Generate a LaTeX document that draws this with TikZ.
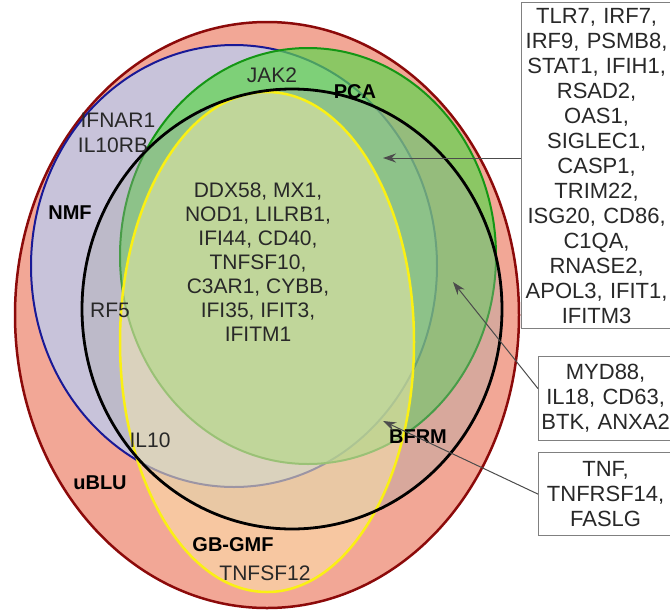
\documentclass[tikz,border=0pt]{standalone}
\usepackage{fontspec}
\setmainfont{Liberation Sans}
\usepackage{tikz}
\usetikzlibrary{arrows.meta}
\definecolor{ublufill}{RGB}{242,167,150}
\definecolor{ubluline}{RGB}{140,10,10}
\definecolor{nmffill}{RGB}{200,195,218}
\definecolor{nmfline}{RGB}{25,25,150}
\definecolor{pcafill}{RGB}{96,214,79}
\definecolor{pcaline}{RGB}{20,150,20}
\definecolor{bfrmfill}{RGB}{170,170,170}
\definecolor{gbfill}{RGB}{255,240,175}
\definecolor{gbline}{RGB}{250,240,20}
\definecolor{ink}{RGB}{40,40,40}
\tikzstyle{genebox} = [rectangle, draw=black!50, line width=1.2pt, fill=white, align=center, text=ink, font=\fontsize{22}{25}\selectfont, inner xsep=2pt, anchor=north west]
\tikzstyle{genes} = [align=center, text=ink, font=\fontsize{21}{24}\selectfont, inner sep=0pt]
\tikzstyle{method} = [text=black, font=\fontsize{20}{24}\selectfont\bfseries, inner sep=0pt]
\tikzstyle{arrow} = [draw=black!70, line width=1pt, -{Stealth[length=13pt,width=9pt]}]

\begin{document}
\begin{tikzpicture}[x=1pt, y=-1pt]
\useasboundingbox (0,0) rectangle (670,614);
% the five gene sets
\draw[ubluline, line width=2.5pt, fill=ublufill] (267,315) ellipse [x radius=252pt, y radius=293pt];
\draw[nmfline, line width=2pt, fill=nmffill] (234,266) ellipse [x radius=203pt, y radius=221pt];
\draw[pcaline, line width=2pt, fill=pcafill, fill opacity=0.7] (308,256) ellipse [x radius=188pt, y radius=208pt];
\fill[bfrmfill, fill opacity=0.35] (292,309) ellipse [x radius=210pt, y radius=220pt];
\draw[gbline, line width=2.5pt, fill=gbfill, fill opacity=0.45] (267,342) ellipse [x radius=147pt, y radius=250pt];
\draw[black, line width=2.8pt] (292,309) ellipse [x radius=210pt, y radius=220pt];

% set names
\node[method] (nmf) at (70,213) {NMF};
\node[method] (pca) at (355,92) {PCA};
\node[method] (bfrm) at (418,437) {BFRM};
\node[method] (ublu) at (100,483) {uBLU};
\node[method] (gbgmf) at (233,545) {GB-GMF};

% genes inside the sets
\node[genes] (jak) at (272,75) {JAK2};
\node[genes] (ifnar) at (118,120) {IFNAR1};
\node[genes] (ilrb) at (113,145) {IL10RB};
\node[genes] (rf) at (110,310) {RF5};
\node[genes] (il) at (150,440) {IL10};
\node[genes] (tnfsf) at (265,573) {TNFSF12};
\node[genes] (core) at (258,262) {DDX58, MX1,\\NOD1, LILRB1,\\IFI44, CD40,\\TNFSF10,\\C3AR1, CYBB,\\IFI35, IFIT3,\\IFITM1};

% boxes on the right
\node[genebox, text width=146pt, minimum height=326pt] (boxA) at (521,2) {TLR7, IRF7,\\IRF9, PSMB8,\\STAT1, IFIH1,\\RSAD2,\\OAS1,\\SIGLEC1,\\CASP1,\\TRIM22,\\ISG20, CD86,\\C1QA,\\RNASE2,\\APOL3, IFIT1,\\IFITM3};
\node[genebox, text width=130pt, minimum height=84pt] (boxB) at (538,356) {MYD88,\\IL18, CD63,\\BTK, ANXA2};
\node[genebox, text width=130pt, minimum height=83pt] (boxC) at (538,452) {TNF,\\TNFRSF14,\\FASLG};

\coordinate (tipA) at (383,158);
\coordinate (tipB) at (453,282);
\coordinate (tipC) at (383,421);

\draw [arrow] (boxA.west |- tipA) -- (tipA);
\draw [arrow] ([yshift=10pt]boxB.west) -- (tipB);
\draw [arrow] (boxC.west) -- (tipC);
\end{tikzpicture}
\end{document}
